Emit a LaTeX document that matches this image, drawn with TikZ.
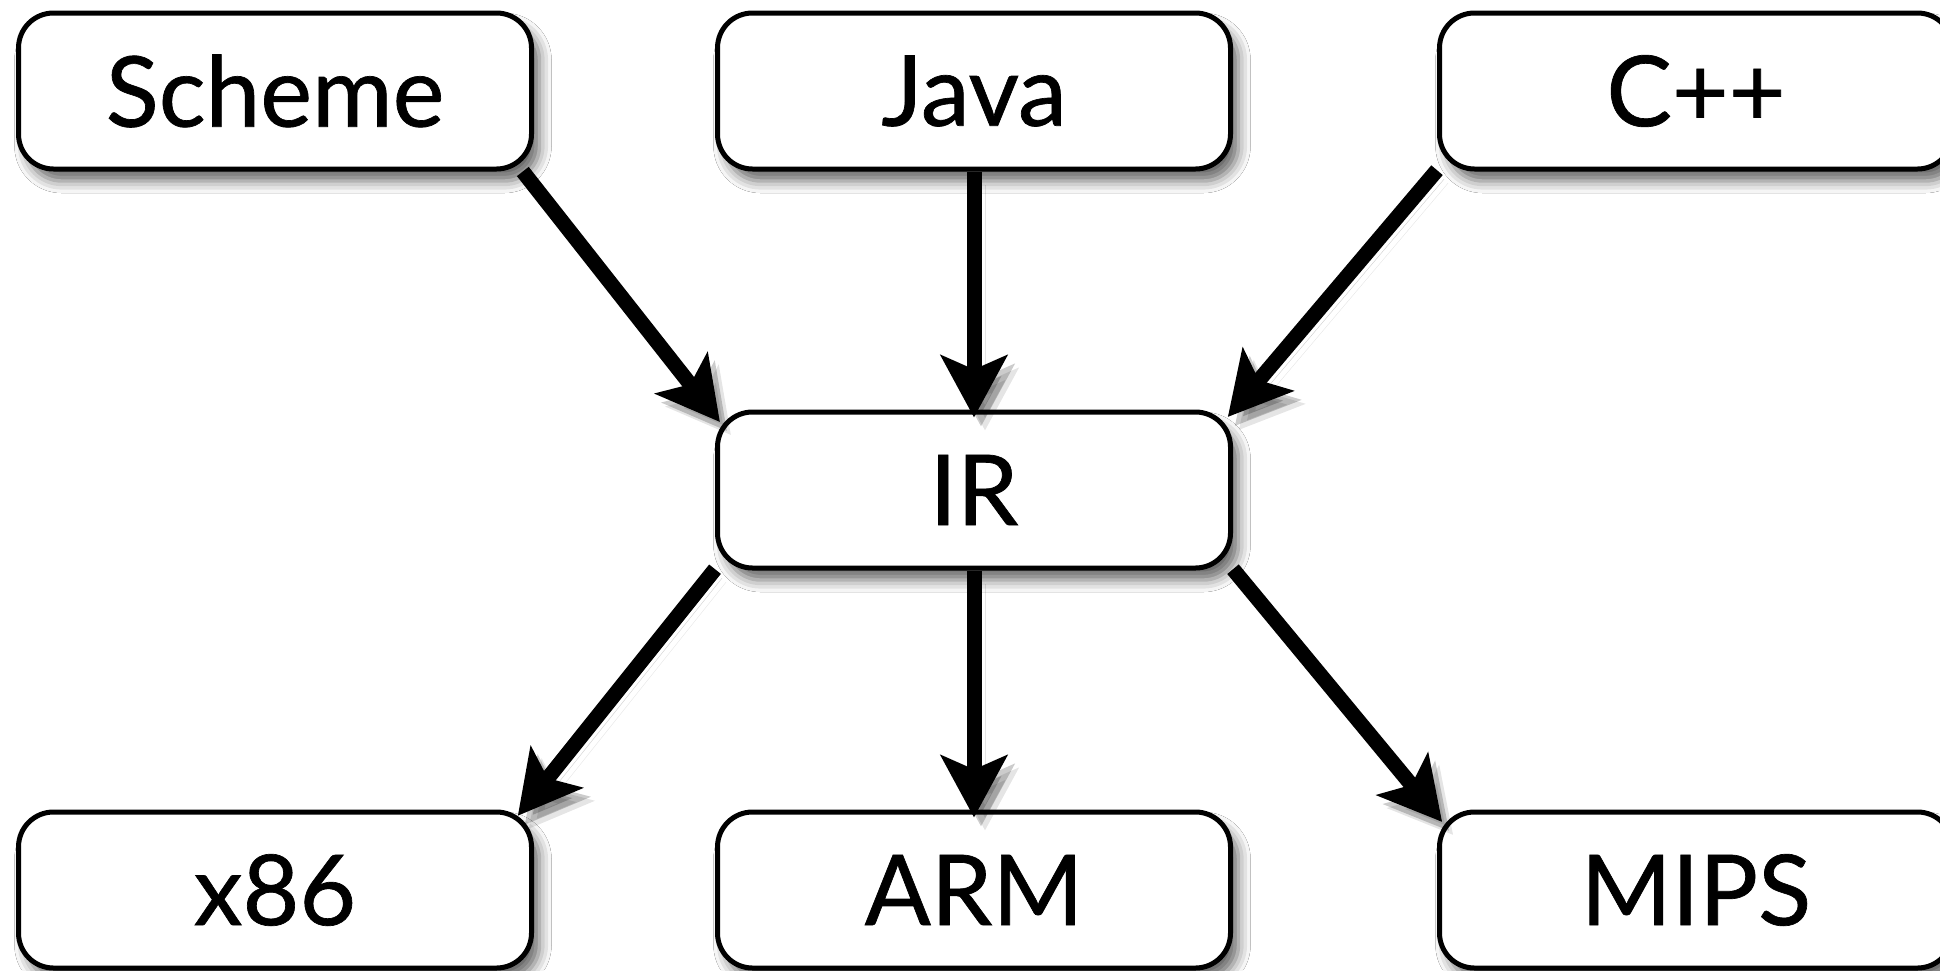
\documentclass[tikz,border=0pt]{standalone}
\usepackage{fontspec}
\newfontfamily\boxfont{Lato}[FakeBold=0.7]
\usetikzlibrary{arrows.meta,shadows.blur}

\tikzset{
  lang/.style={draw, line width=5pt, fill=white, rounded corners=35pt,
    minimum width=513pt, minimum height=156pt, inner sep=0pt,
    font=\boxfont\fontsize{98}{100}\selectfont,
    blur shadow={shadow xshift=8pt, shadow yshift=-12pt, shadow blur radius=12pt, shadow opacity=60}},
  flow/.style={line width=15pt, -{Stealth[length=62pt,width=66pt,inset=14pt]},
    shorten >=-8pt,
    preaction={draw=black, opacity=0.20, transform canvas={shift={(7pt,-9pt)}}},
    preaction={draw=black, opacity=0.10, transform canvas={shift={(11pt,-13pt)}}}},
}

\begin{document}
\begin{tikzpicture}[x=1pt, y=-1pt]
\clip (0,0) rectangle (1940,970);
\fill[white] (0,0) rectangle (1940,970);

% front ends
\node[lang] (scheme) at (275,91) {Scheme};
\node[lang] (java) at (974,91) {Java};
\node[lang] (cpp) at (1696,91) {C++};

% shared middle
\node[lang] (ir) at (974,490) {IR};

% back ends
\node[lang] (x86) at (275,890) {x86};
\node[lang] (arm) at (974,890) {ARM};
\node[lang] (mips) at (1696,890) {MIPS};

\draw[flow] (scheme.-18) -- (ir.164);
\draw[flow] (java) -- (ir);
\draw[flow] (cpp.-163) -- (ir.17);
\draw[flow] (ir.-163) -- (x86.18);
\draw[flow] (ir) -- (arm);
\draw[flow] (ir.-17) -- (mips.164);
\end{tikzpicture}
\end{document}
